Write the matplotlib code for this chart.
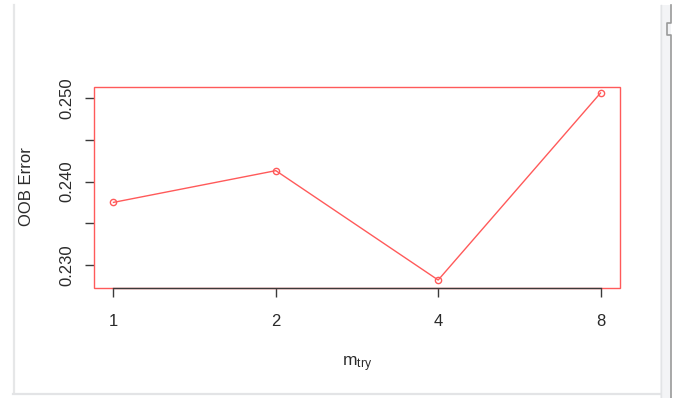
import matplotlib
matplotlib.use("Agg")
import matplotlib.pyplot as plt
from matplotlib.patches import Rectangle
from matplotlib.lines import Line2D

plt.rcParams['font.family'] = ['Liberation Sans', 'DejaVu Sans']
plt.rcParams['mathtext.fontset'] = 'custom'
plt.rcParams['mathtext.rm'] = 'Liberation Sans'
plt.rcParams['mathtext.it'] = 'Liberation Sans'

# ---- data ----
mtry_labels = ['1', '2', '4', '8']
oob_error = [0.2375, 0.2413, 0.2282, 0.2506]
y_ticks = [0.230, 0.235, 0.240, 0.245, 0.250]
y_tick_labels = ['0.230', '', '0.240', '', '0.250']

W, H = 678, 398
fig = plt.figure(figsize=(W / 100, H / 100), dpi=100)
fig.patch.set_facecolor('white')

def fx(px):
    return px / W

def fy(py):
    return 1 - py / H

# screenshot frame decorations
fig.add_artist(Rectangle((fx(660), fy(398)), fx(671) - fx(660), fy(5) - fy(398),
                         transform=fig.transFigure, fc='#f3f4f6', ec='none', zorder=0))
fig.add_artist(Line2D([fx(660.5), fx(660.5)], [fy(5), fy(398)], transform=fig.transFigure,
                      color='#e2e4e6', lw=1, zorder=1))
fig.add_artist(Line2D([fx(671), fx(671), fx(667), fx(667), fx(671), fx(671)],
                      [fy(5), fy(23), fy(23), fy(35), fy(35), fy(398)],
                      transform=fig.transFigure, color='#9a9a9a', lw=1.2, zorder=1))
fig.add_artist(Line2D([fx(13.5), fx(13.5)], [fy(5), fy(393)], transform=fig.transFigure,
                      color='#e6e7e8', lw=1.6, zorder=1))
fig.add_artist(Line2D([fx(13), fx(660)], [fy(393.5), fy(393.5)], transform=fig.transFigure,
                      color='#e3e4e6', lw=1.6, zorder=1))

# plot axes
left, right, top, bottom = 94, 620, 86.5, 288
ax = fig.add_axes([fx(left), fy(bottom), fx(right) - fx(left), fy(top) - fy(bottom)])
ax.set_facecolor('none')

red = '#ff5a5a'
x = list(range(len(mtry_labels)))
ax.plot(x, oob_error, color=red, lw=1.0, marker='o', markersize=4.5,
        markerfacecolor='none', markeredgecolor=red, markeredgewidth=1.0)

ax.set_xlim(-0.12, len(mtry_labels) - 1 + 0.12)
ax.set_ylim(0.227246, 0.251377)

for s in ['top', 'right', 'left']:
    ax.spines[s].set_visible(False)
ax.spines['bottom'].set_bounds(0, len(mtry_labels) - 1)
ax.spines['bottom'].set_color('#3a3a3a')
ax.spines['bottom'].set_linewidth(1.0)

ax.add_patch(Rectangle((0, 0), 1, 1, transform=ax.transAxes, fill=False,
                       ec=red, lw=1.0, clip_on=False, zorder=2))

ax.set_xticks(x)
ax.set_xticklabels(mtry_labels)
ax.set_yticks(y_ticks)
ax.set_yticklabels(y_tick_labels, rotation=90, va='center')

ax.tick_params(axis='x', direction='out', length=6.5, width=1.0, color='#3a3a3a',
               labelsize=12, labelcolor='#2a2a2a', pad=12)
ax.tick_params(axis='y', direction='out', length=6.5, width=1.0, color='#3a3a3a',
               labelsize=12, labelcolor='#2a2a2a', pad=7.5)

fig.text(fx(27), fy(186.7), 'OOB Error', rotation=90, ha='center', va='center',
         fontsize=12, color='#2a2a2a')
fig.text(fx(357), fy(364), r'$\mathregular{m_{try}}$', ha='center', va='center',
         fontsize=12.5, color='#2a2a2a')

fig.savefig('out.png', dpi=100)
